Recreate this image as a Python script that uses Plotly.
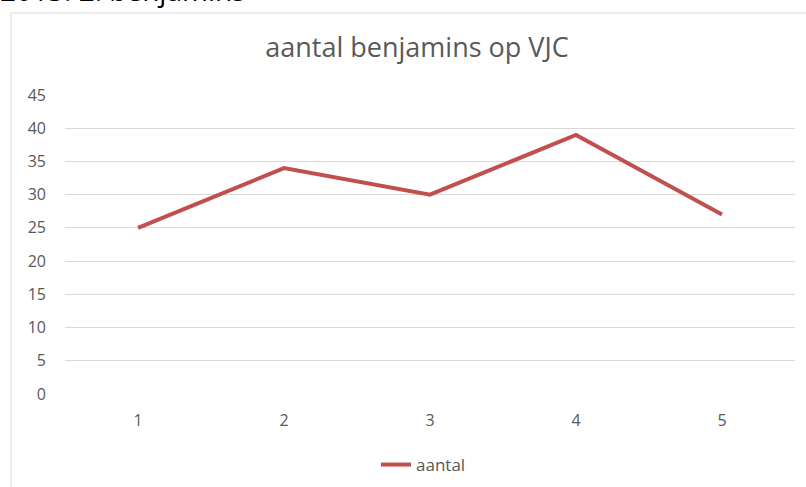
import plotly.graph_objects as go

categories = [1, 2, 3, 4, 5]
aantal = [25, 34, 30, 39, 27]
y_ticks = [0, 5, 10, 15, 20, 25, 30, 35, 40, 45]

fig = go.Figure()
fig.add_trace(go.Scatter(
    x=categories, y=aantal, mode="lines", name="aantal",
    line=dict(color="#C0504D", width=4),
))

grey = "#595959"
fig.update_layout(
    width=806, height=487,
    margin=dict(l=65, r=11, t=95, b=93),
    paper_bgcolor="white", plot_bgcolor="white",
    font=dict(family="Open Sans", color=grey, size=16),
    title=dict(text="aantal benjamins op VJC", x=417 / 806, xanchor="center",
               y=1 - 48 / 487, yanchor="middle",
               font=dict(size=27, color=grey, family="Open Sans")),
    showlegend=True,
    legend=dict(orientation="h", x=(367 - 65 + 9) / 730, xanchor="left", yref="container",
                y=(487 - 465) / 487, yanchor="middle",
                font=dict(size=17, color=grey)),
    xaxis=dict(range=[0.5, 5.5], tickvals=categories, showgrid=False,
               zeroline=False, showline=False, ticks="", ticklabelstandoff=15,
               fixedrange=True),
    yaxis=dict(range=[0, 45], tickvals=y_ticks, showgrid=True, gridcolor="#D9D9D9",
               gridwidth=1, zeroline=False, showline=False, ticks="",
               ticklabelstandoff=18, fixedrange=True),
    shapes=[dict(type="rect", xref="paper", yref="paper",
                 x0=-54 / 730, x1=1.05, y0=-0.5, y1=1 + (95 - 13) / 299,
                 line=dict(color="#D9D9D9", width=1), fillcolor="rgba(0,0,0,0)",
                 layer="below")],
    annotations=[dict(text="2013: 2. benjamins", xref="paper", yref="paper",
                      x=-66 / 730, xanchor="left", y=1 + (95 - 10) / 299, yanchor="bottom",
                      showarrow=False, borderpad=0,
                      font=dict(size=28, color="black", family="Open Sans"))],
)

fig.write_html("out.html", post_script="document.body.style.margin='0';",
               config={"displayModeBar": False})
